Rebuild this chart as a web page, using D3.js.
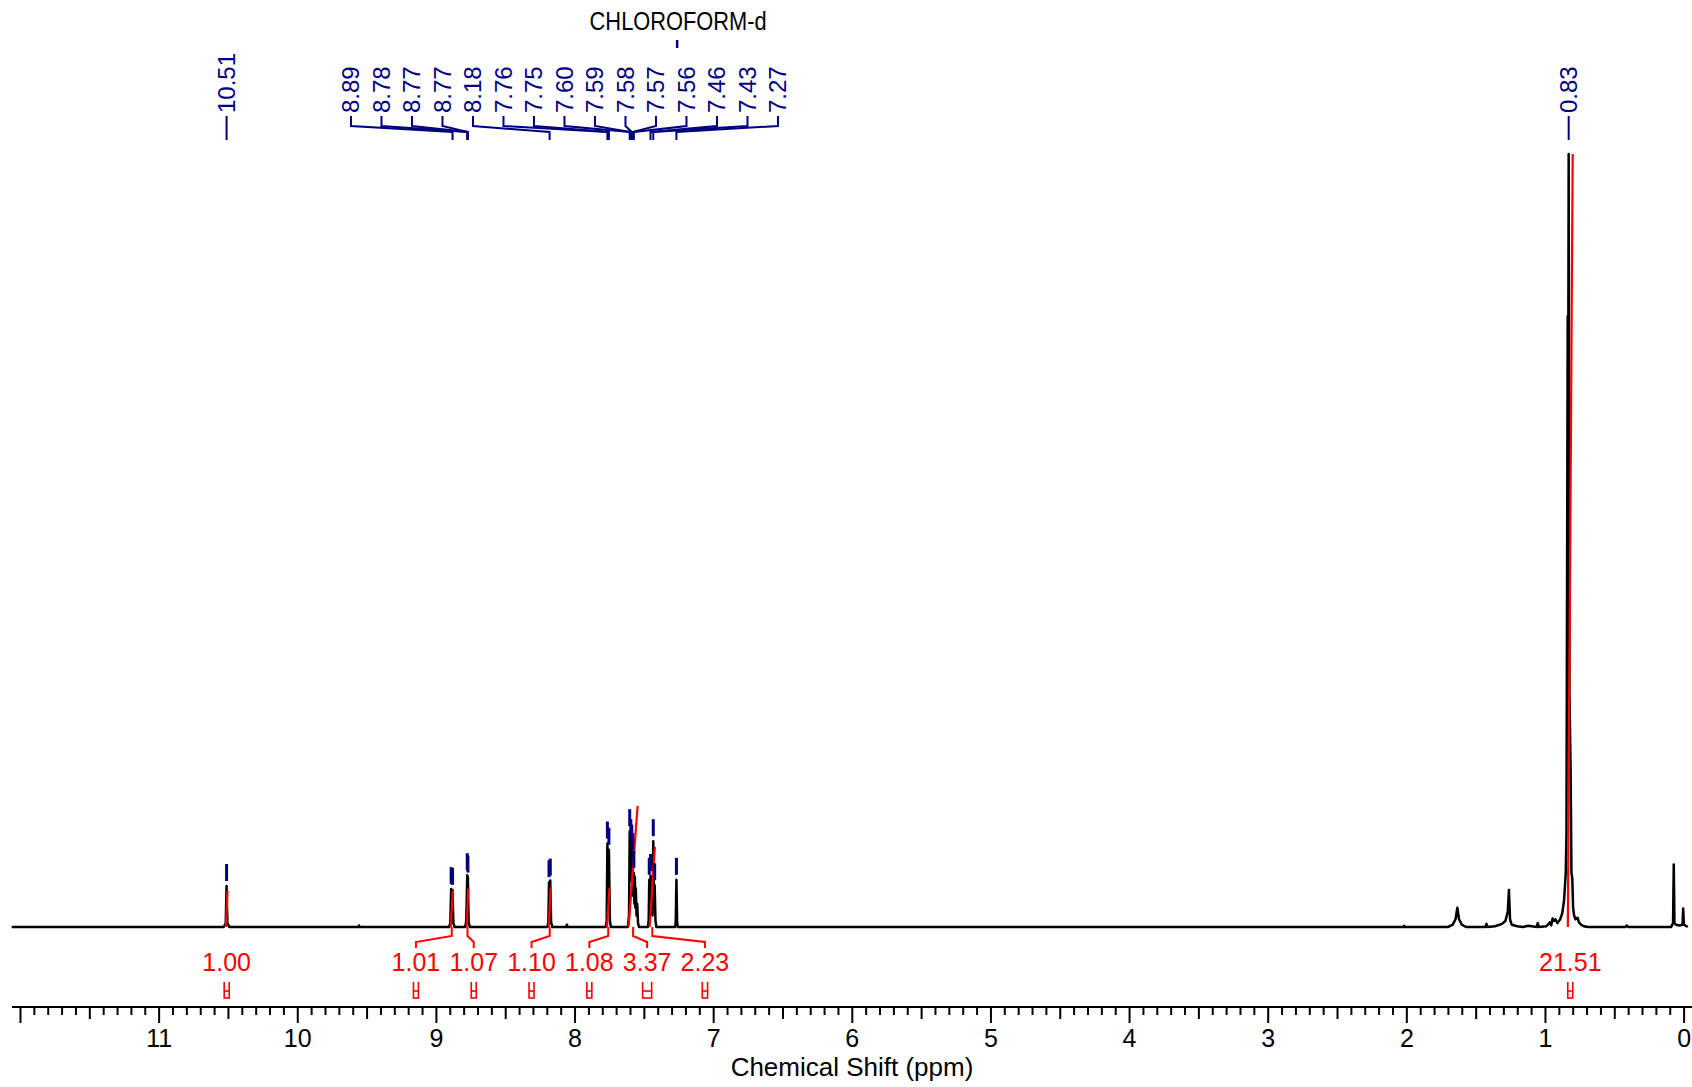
<!DOCTYPE html>
<html>
<head>
<meta charset="utf-8">
<script src="https://cdn.jsdelivr.net/npm/d3@7"></script>
<style>
body { margin: 0; background: #fff; }
svg { display: block; font-family: "Liberation Sans", Arial, sans-serif; }
</style>
</head>
<body>
<div id="chart"></div>
<script>
var svgWidth = 1692;
var svgHeight = 1087;

// 1H trace: [ppm, intensity in % of the tallest line]
var spectrum = [
    [12.06, 0],
    [10.53, 0], [10.516, 0.5], [10.51, 5.3], [10.504, 0.5], [10.49, 0],
    [9.56, 0], [9.555, 0.2], [9.55, 0],
    [8.905, 0], [8.896, 0.5], [8.89, 4.9], [8.885, 2.0], [8.88, 4.8], [8.874, 0.5], [8.865, 0],
    [8.79, 0], [8.782, 0.6], [8.778, 3.0], [8.774, 6.7], [8.769, 6.4], [8.764, 0.6], [8.755, 0],
    [8.195, 0], [8.189, 0.6], [8.184, 5.8], [8.179, 3.2], [8.175, 6.0], [8.169, 0.6], [8.16, 0],
    [8.06, 0], [8.055, 0.3], [8.05, 0],
    [7.775, 0], [7.768, 0.8], [7.763, 10.8], [7.757, 5.0], [7.752, 10.0], [7.745, 0.8], [7.738, 0],
    [7.615, 0], [7.607, 1.5], [7.602, 12.4], [7.598, 6.5], [7.594, 11.1], [7.590, 6.0], [7.587, 10.4],
    [7.583, 5.0], [7.580, 9.3], [7.576, 4.0], [7.572, 7.0], [7.568, 3.0], [7.565, 6.5], [7.561, 2.5],
    [7.558, 5.0], [7.553, 1.5], [7.548, 3.0], [7.542, 0.5], [7.535, 0],
    [7.47, 0], [7.465, 1.0], [7.461, 6.1], [7.457, 2.5], [7.452, 6.6], [7.446, 2.0], [7.437, 1.5],
    [7.432, 11.1], [7.427, 4.0], [7.422, 5.4], [7.416, 0.8], [7.41, 0],
    [7.275, 0], [7.27, 0.6], [7.265, 6.1], [7.26, 0.6], [7.255, 0],
    [2.02, 0], [2.015, 0.15], [2.01, 0],
    [1.70, 0], [1.665, 0.3], [1.645, 1.0], [1.632, 2.5], [1.62, 1.0], [1.60, 0.3], [1.57, 0],
    [1.43, 0], [1.422, 0.4], [1.414, 0],
    [1.36, 0.1], [1.31, 0.4], [1.285, 0.8], [1.268, 2.0], [1.26, 4.8], [1.252, 1.0], [1.24, 0.3], [1.20, 0.1],
    [1.16, 0], [1.12, 0.15], [1.06, 0], [1.052, 0.5], [1.045, 0],
    [0.99, 0.1], [0.965, 0.6], [0.955, 0.2], [0.945, 1.1], [0.935, 0.8], [0.925, 1.0], [0.91, 0.5],
    [0.89, 1.0], [0.875, 1.8], [0.862, 3.5], [0.85, 7.0], [0.845, 12], [0.836, 79], [0.834, 55],
    [0.829, 100], [0.823, 30], [0.815, 20.4], [0.809, 7.0], [0.803, 6.3], [0.797, 2.5], [0.79, 1.5],
    [0.78, 1.0], [0.765, 1.2], [0.755, 0.6], [0.74, 0.3], [0.72, 0.1], [0.69, 0],
    [0.42, 0], [0.41, 0.2], [0.40, 0],
    [0.09, 0], [0.076, 0.5], [0.071, 8.1], [0.066, 0.5], [0.055, 0.3], [0.03, 0.2],
    [0.008, 0.3], [0.003, 2.4], [-0.002, 0.3], [-0.03, 0]
];

// peak picking
var peakLabels = ["10.51", "8.89", "8.78", "8.77", "8.77", "8.18", "7.76", "7.75", "7.60",
    "7.59", "7.58", "7.57", "7.56", "7.46", "7.43", "7.27", "0.83"];
var peakPpm = [10.51, 8.88, 8.774, 8.772, 8.769, 8.18, 7.763, 7.752, 7.602,
    7.594, 7.587, 7.580, 7.572, 7.452, 7.432, 7.265, 0.829];
var markPpm = [10.51, 8.89, 8.88, 8.774, 8.769, 8.184, 8.175, 7.763, 7.752, 7.602, 7.594,
    7.587, 7.580, 7.572, 7.461, 7.452, 7.432, 7.422, 7.265];

var solventName = "CHLOROFORM-d";
var solventPpm = 7.26;

// integrals
var intFrom = [10.515, 8.893, 8.778, 8.186, 7.766, 7.61, 7.458, 0.835];
var intTo = [10.503, 8.878, 8.766, 8.172, 7.748, 7.545, 7.42, 0.80];
var intValues = [1.00, 1.01, 1.07, 1.10, 1.08, 3.37, 2.23, 21.51];

var xTitle = "Chemical Shift (ppm)";

var navy = "#000080";
var red = "#ff0000";

var svg = d3.select("#chart")
    .append("svg")
    .attr("width", svgWidth)
    .attr("height", svgHeight);

// scales
var x = d3.scaleLinear().domain([12, 0]).range([20, 1683.6]);
var y = d3.scaleLinear().domain([0, 100]).range([927, 154]);
var intY = d3.scaleLinear().domain([0, d3.max(intValues)]).range([0, 100]);

// push overlapping labels apart, keeping clusters centred
function spread(xs, gap, useMid) {
    var groups = xs.map(function(v) { return {xs: [v]}; });
    function place(g) {
        var n = g.xs.length;
        var c = useMid ? (g.xs[0] + g.xs[n - 1]) / 2 : d3.mean(g.xs);
        g.start = c - (n - 1) * gap / 2;
        g.end = g.start + (n - 1) * gap;
    }
    groups.forEach(place);
    var merged = true;
    while (merged) {
        merged = false;
        for (var i = 0; i < groups.length - 1; i++) {
            if (groups[i].end + gap > groups[i + 1].start + 0.01) {
                groups[i].xs = groups[i].xs.concat(groups[i + 1].xs);
                groups.splice(i + 1, 1);
                place(groups[i]);
                merged = true;
                break;
            }
        }
    }
    var out = [];
    groups.forEach(function(g) {
        g.xs.forEach(function(v, j) { out.push(g.start + j * gap); });
    });
    return out;
}

// axis
var axisY = 1007;
svg.append("line")
    .attr("x1", 12).attr("x2", svgWidth)
    .attr("y1", axisY).attr("y2", axisY)
    .attr("stroke", "#000").attr("stroke-width", 2.2);

function tickAxis(values, size, labels) {
    var ax = d3.axisBottom(x)
        .tickValues(values)
        .tickSize(size)
        .tickSizeOuter(0)
        .tickPadding(6)
        .tickFormat(function(d) { return labels && d < 12 ? d3.format("d")(d) : ""; });
    var g = svg.append("g")
        .attr("transform", "translate(0," + axisY + ")")
        .call(ax);
    g.select(".domain").remove();
    g.selectAll(".tick line").attr("stroke", "#000").attr("stroke-width", 2);
    g.selectAll("text")
        .attr("fill", "#000")
        .style("font-size", "25px")
        .style("font-family", "'Liberation Sans', Arial, sans-serif");
    return g;
}
tickAxis(d3.range(0, 121).map(function(i) { return i / 10; }).filter(function(v, i) { return i % 5 !== 0; }), 8, false);
tickAxis(d3.range(0, 12).map(function(i) { return i + 0.5; }), 12, false);
tickAxis(d3.range(0, 13), 16, true);

svg.append("text")
    .attr("x", 852)
    .attr("y", 1076)
    .attr("text-anchor", "middle")
    .style("font-size", "26px")
    .text(xTitle);

// spectrum
var line = d3.line()
    .x(function(d) { return x(d[0]); })
    .y(function(d) { return y(d[1]); });

svg.append("path")
    .datum(spectrum)
    .attr("d", line)
    .attr("fill", "none")
    .attr("stroke", "#000")
    .attr("stroke-width", 2.5)
    .attr("stroke-linejoin", "round");

// integral curves and labels
var intMid = intFrom.map(function(f, i) { return (f + intTo[i]) / 2; });
var intLabelX = spread(intMid.map(function(p) { return x(p); }), 57.8, false);

intValues.forEach(function(v, i) {
    svg.append("path")
        .datum([[intFrom[i], 0], [intTo[i], intY(v)]])
        .attr("d", line)
        .attr("fill", "none")
        .attr("stroke", red)
        .attr("stroke-width", 2.2);

    var cx = x(intMid[i]);
    var lx = intLabelX[i];
    if (Math.abs(lx - cx) > 1) {
        svg.append("path")
            .attr("d", "M" + cx + ",927V936L" + lx + ",942V948")
            .attr("fill", "none")
            .attr("stroke", red)
            .attr("stroke-width", 2);
    }

    svg.append("text")
        .attr("x", lx)
        .attr("y", 971)
        .attr("text-anchor", "middle")
        .attr("fill", red)
        .style("font-size", "25px")
        .text(v.toFixed(2));

    var w = Math.max(5, Math.abs(x(intTo[i]) - x(intFrom[i])));
    svg.append("path")
        .attr("d", "M" + (lx - w / 2) + ",982V991M" + (lx + w / 2) + ",982V991")
        .attr("stroke", red)
        .attr("stroke-width", 1.6);
    svg.append("rect")
        .attr("x", lx - w / 2)
        .attr("y", 991)
        .attr("width", w)
        .attr("height", 7)
        .attr("fill", "none")
        .attr("stroke", red)
        .attr("stroke-width", 1.6);
});

// peak marks above the lines
function heightAt(p) {
    var best = spectrum[0];
    spectrum.forEach(function(d) {
        if (Math.abs(d[0] - p) < Math.abs(best[0] - p)) best = d;
    });
    return best[1];
}

svg.selectAll(".pmark")
    .data(markPpm)
    .enter()
    .append("line")
    .attr("class", "pmark")
    .attr("x1", function(d) { return x(d); })
    .attr("x2", function(d) { return x(d); })
    .attr("y1", function(d) { return y(heightAt(d)) - 22; })
    .attr("y2", function(d) { return y(heightAt(d)) - 5; })
    .attr("stroke", navy)
    .attr("stroke-width", 3);

// peak labels on top
var peakX = peakPpm.map(function(p) { return x(p); });
var labelX = spread(peakX, 30.5, true);

peakLabels.forEach(function(t, i) {
    svg.append("path")
        .attr("d", "M" + labelX[i] + ",116V126L" + peakX[i] + ",132V140")
        .attr("fill", "none")
        .attr("stroke", navy)
        .attr("stroke-width", 2);
    svg.append("text")
        .attr("transform", "translate(" + labelX[i] + ",113) rotate(-90)")
        .attr("dy", "0.35em")
        .attr("fill", navy)
        .style("font-size", "24px")
        .text(t);
});

// solvent
svg.append("text")
    .attr("x", x(solventPpm) + 1)
    .attr("y", 30)
    .attr("text-anchor", "middle")
    .attr("textLength", 177)
    .attr("lengthAdjust", "spacingAndGlyphs")
    .style("font-size", "25px")
    .text(solventName);

svg.append("line")
    .attr("x1", x(solventPpm)).attr("x2", x(solventPpm))
    .attr("y1", 40).attr("y2", 48)
    .attr("stroke", navy)
    .attr("stroke-width", 2.5);
</script>
</body>
</html>
